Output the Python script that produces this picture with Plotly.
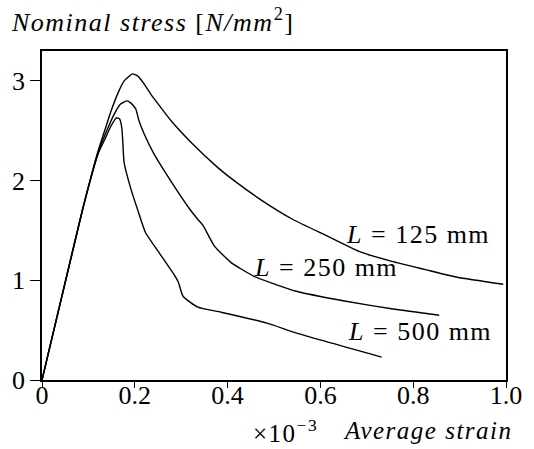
import plotly.graph_objects as go

# Average strain (x 10^-3) and nominal stress (N/mm^2)
strain_125 = [0, 0.088, 0.121, 0.135, 0.149, 0.163, 0.177, 0.195, 0.206, 0.220, 0.234, 0.255,
              0.280, 0.322, 0.379, 0.400, 0.471, 0.541, 0.612, 0.683, 0.754, 0.824, 0.895, 0.994]
stress_125 = [0, 1.72, 2.30, 2.50, 2.70, 2.87, 3.00, 3.07, 3.05, 2.97, 2.87, 2.74,
              2.59, 2.38, 2.13, 2.05, 1.81, 1.61, 1.45, 1.29, 1.19, 1.11, 1.03, 0.96]

strain_250 = [0, 0.088, 0.121, 0.135, 0.156, 0.170, 0.183, 0.191, 0.202, 0.209, 0.220, 0.241,
              0.266, 0.319, 0.336, 0.347, 0.372, 0.407, 0.457, 0.548, 0.655, 0.760, 0.856]
stress_250 = [0, 1.72, 2.28, 2.45, 2.67, 2.77, 2.80, 2.78, 2.72, 2.60, 2.47, 2.27,
              2.08, 1.71, 1.61, 1.55, 1.34, 1.18, 1.04, 0.89, 0.79, 0.71, 0.65]

strain_500 = [0, 0.088, 0.121, 0.135, 0.149, 0.160, 0.167, 0.172, 0.174, 0.177, 0.192, 0.206,
              0.223, 0.252, 0.287, 0.294, 0.304, 0.336, 0.386, 0.485, 0.549, 0.732]
stress_500 = [0, 1.72, 2.27, 2.41, 2.55, 2.63, 2.62, 2.53, 2.40, 2.18, 1.91, 1.71,
              1.48, 1.28, 1.04, 0.98, 0.84, 0.73, 0.68, 0.57, 0.47, 0.23]

series_labels = ["125", "250", "500"]
label_pos_x = [0.651, 0.453, 0.655]
label_pos_y = [1.46, 1.13, 0.49]

x_tickvals = [0, 0.2, 0.4, 0.6, 0.8, 1.0]
x_ticktext = ["0", "0.2", "0.4", "0.6", "0.8", "1.0"]
y_tickvals = [0, 1, 2, 3]

FONT = "Liberation Serif, Times New Roman, serif"
SP = '<span style="letter-spacing:1.5px">{}</span>'

fig = go.Figure()
for xs, ys in [(strain_125, stress_125), (strain_250, stress_250), (strain_500, stress_500)]:
    fig.add_trace(go.Scatter(x=xs, y=ys, mode="lines",
                             line=dict(color="black", width=1.4, shape="spline", smoothing=0.5),
                             showlegend=False, hoverinfo="skip"))

for lab, lx, ly in zip(series_labels, label_pos_x, label_pos_y):
    fig.add_annotation(x=lx, y=ly, xref="x", yref="y", xanchor="left", yanchor="middle",
                       text=SP.format(f"<i>L</i> = {lab} mm"), showarrow=False,
                       font=dict(family=FONT, size=26, color="black"))

fig.add_annotation(x=-0.072, y=1.094, xref="paper", yref="paper", xanchor="left", yanchor="middle",
                   text=SP.format("<i>Nominal stress</i> [<i>N/mm</i><sup>2</sup>]"), showarrow=False,
                   font=dict(family=FONT, size=26, color="black"))
fig.add_annotation(x=0.451, y=-0.155, xref="paper", yref="paper", xanchor="left", yanchor="middle",
                   text=SP.format("×10<sup>−3</sup>"), showarrow=False,
                   font=dict(family=FONT, size=25, color="black"))
fig.add_annotation(x=1.02, y=-0.155, xref="paper", yref="paper", xanchor="right", yanchor="middle",
                   text=SP.format("<i>Average strain</i>"), showarrow=False,
                   font=dict(family=FONT, size=25, color="black"))

fig.update_xaxes(range=[0, 1.0], tickvals=x_tickvals, ticktext=x_ticktext,
                 ticks="outside", ticklen=6, tickwidth=1, tickcolor="black",
                 ticklabelstandoff=-15,
                 showline=True, linecolor="black", linewidth=1.5, mirror=True,
                 showgrid=False, zeroline=False,
                 tickfont=dict(family=FONT, size=26, color="black"))
fig.update_yaxes(range=[0, 3.30], tickvals=y_tickvals,
                 ticks="outside", ticklen=10, tickwidth=1, tickcolor="black",
                 showline=True, linecolor="black", linewidth=1.5, mirror=True,
                 showgrid=False, zeroline=False,
                 tickfont=dict(family=FONT, size=26, color="black"))

fig.update_layout(width=534, height=449, margin=dict(l=41, r=21, t=51, b=69),
                  plot_bgcolor="white", paper_bgcolor="white",
                  font=dict(family=FONT, color="black"))

fig.write_html("out.html")
